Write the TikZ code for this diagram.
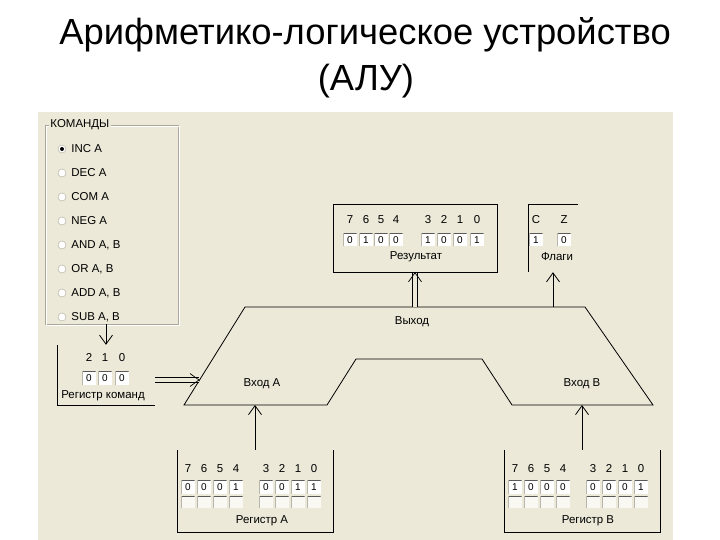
\documentclass[tikz,border=0pt]{standalone}
\usepackage{fontspec}
\setmainfont{Liberation Sans}
\usetikzlibrary{arrows.meta, positioning, calc}
\definecolor{panel}{RGB}{236,233,216}
\definecolor{etch}{RGB}{172,168,153}

\begin{document}
\begin{tikzpicture}[
    x=1bp, y=-1bp,
    txt/.style={inner sep=0pt, font=\fontsize{11.5}{12}\selectfont},
    bit/.style={txt, anchor=base},
    reg/.style={inner sep=0pt},
    cell/.style={fill=white, inner sep=0pt, minimum width=13bp, minimum height=13bp, font=\fontsize{10}{10}\selectfont,
      path picture={\draw[gray!70!black, line width=1.6bp] (path picture bounding box.south west) |- (path picture bounding box.north east);}},
    chk/.style={cell, fill=white!70!panel, minimum height=11bp},
    radio/.style={circle, draw=etch, fill=white, inner sep=0pt, minimum size=8bp},
    arr/.style={-{Straight Barb[length=9bp, width=13bp]}, line width=0.8bp},
    dbl/.style={arr, double=panel, double distance=4bp, line width=0.7bp}]
  \useasboundingbox (0,0) rectangle (720,540);
  \fill[white] (0,0) rectangle (720,540);
  \fill[panel] (38,112) rectangle (673,540);
  \node[font=\fontsize{36.5}{40}\selectfont, anchor=base] (title1) at (365,45) {Арифметико-логическое устройство};
  \node[font=\fontsize{36.5}{40}\selectfont, anchor=base] (title2) at (366,91) {(АЛУ)};

  \node[reg, minimum width=133bp, minimum height=199bp] (cmds) at (111.5,224.5) {};
  \draw[etch] (cmds.north west) rectangle (cmds.south east);
  \draw[white] ([shift={(1bp,-1bp)}]cmds.north west) rectangle ([shift={(1bp,-1bp)}]cmds.south east);
  \node[txt, fill=panel, inner xsep=1.5bp, anchor=west] (cmdt) at ([xshift=4bp]cmds.north west) {КОМАНДЫ};
  \foreach \c [count=\i from 0] in {INC A, DEC A, COM A, NEG A, {AND A, B}, {OR A, B}, {ADD A, B}, {SUB A, B}} {
    \node[radio] (rad\i) at (62,149+24*\i) {};
    \node[txt, right=5bp of rad\i] (op\i) {\c};
  }
  \fill (rad0) circle (2bp);

  \node[reg, minimum width=98bp, minimum height=60bp] (rcmd) at (106,375) {};
  \draw (rcmd.north west) |- (rcmd.south east);
  \foreach \k/\x in {2/89, 1/105, 0/122} {
    \node[bit] (rcl\k) at (\x,361) {\k};
    \node[cell] (rc\k) at (\x,378) {0};
  }
  \node[txt] (rcmdl) at (103,396) {Регистр команд};

  \node[reg, minimum width=164bp, minimum height=68bp] (res) at (415,238) {};
  \draw (res.north west) rectangle (res.south east);
  \foreach \k/\v/\x in {7/0/350, 6/1/366, 5/0/381, 4/0/396, 3/1/428, 2/0/444, 1/0/460, 0/1/477} {
    \node[bit] (rsl\k) at (\x,224) {\k};
    \node[cell] (rs\k) at (\x,240) {\v};
  }
  \node[txt] (resl) at (416,257) {Результат};

  \node[reg, minimum width=50bp, minimum height=68bp] (flg) at (553,238) {};
  \draw (flg.south west) |- (flg.north east);
  \foreach \k/\v/\x in {C/1/536, Z/0/564} {
    \node[bit] (fl\k) at (\x,224) {\k};
    \node[cell] (f\k) at (\x,240) {\v};
  }
  \node[txt] (flgl) at (557,257) {Флаги};

  \coordinate (aluBL) at (184,405);
  \coordinate (aluTL) at (245,307);
  \coordinate (aluTR) at (585,307);
  \coordinate (aluBR) at (653,405);
  \draw[line width=0.8bp] (aluBL) -- (aluTL) -- (aluTR) -- (aluBR) -- (512,405) -- (482,359) -- (356,359) -- (327,405) -- cycle;
  \coordinate (aluIn) at ($(aluBL)!0.255!(aluTL)$);
  \node[txt] (out) at (412,322) {Выход};
  \node[txt] (inA) at (262,384) {Вход A};
  \node[txt] (inB) at (582,384) {Вход B};

  \node[reg, minimum width=156bp, minimum height=82bp] (rega) at (255,491) {};
  \draw (rega.north west) |- (rega.south east) -- (rega.north east);
  \foreach \k/\v/\x in {7/0/188, 6/0/204, 5/0/220, 4/1/236, 3/0/266, 2/0/282, 1/1/298, 0/1/314} {
    \node[bit] (ral\k) at (\x,472) {\k};
    \node[cell] (ra\k) at (\x,487) {\v};
    \node[chk] (rac\k) at (\x,502) {};
  }
  \node[txt] (regal) at (262,521) {Регистр A};

  \node[reg, minimum width=156bp, minimum height=82bp] (regb) at (582,491) {};
  \draw (regb.north west) |- (regb.south east) -- (regb.north east);
  \foreach \k/\v/\x in {7/1/515, 6/0/531, 5/0/547, 4/0/563, 3/0/593, 2/0/609, 1/0/625, 0/1/641} {
    \node[bit] (rbl\k) at (\x,472) {\k};
    \node[cell] (rb\k) at (\x,487) {\v};
    \node[chk] (rbc\k) at (\x,502) {};
  }
  \node[txt] (regbl) at (588,521) {Регистр B};

  \draw[arr] (cmds.south -| rcmd.north) -- (rcmd.north);
  \draw[dbl] (rcmd.east |- aluIn) -- (aluIn);
  \draw[dbl] (aluTL -| res.south) -- (res.south);
  \draw[arr] (aluTL -| flg.south) -- (flg.south);
  \draw[arr] (rega.north) -- (rega.north |- aluBL);
  \draw[arr] (regb.north) -- (regb.north |- aluBL);
\end{tikzpicture}
\end{document}
